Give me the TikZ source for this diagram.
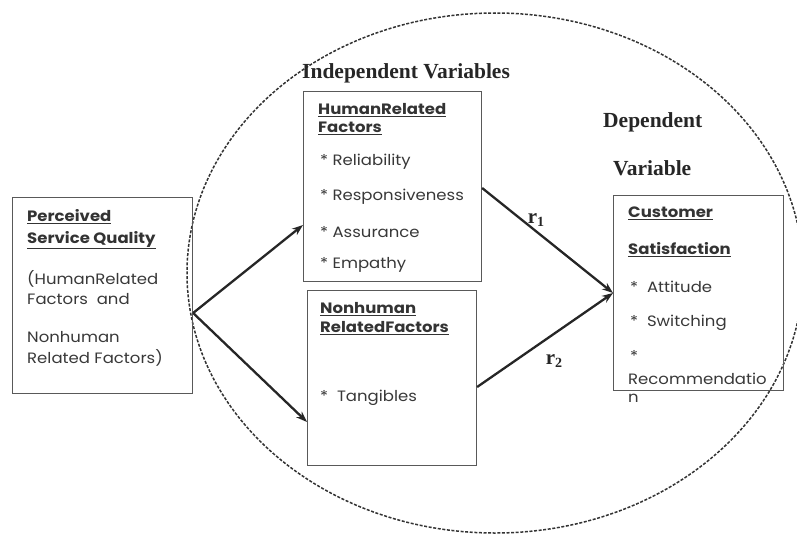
\documentclass[tikz,border=0pt]{standalone}
\usepackage{fontspec}
\setmainfont{Liberation Serif}
\newfontfamily\boxfont[FakeStretch=1.1]{Poppins}
\usetikzlibrary{arrows.meta,calc}
\begin{document}
\begin{tikzpicture}[x=1pt,y=-1pt,
  boxst/.style={draw=black!65, line width=1.1pt, anchor=north west, inner sep=0},
  txt/.style={font=\boxfont\fontsize{15}{17}\selectfont, anchor=west, inner sep=0, text=black!78},
  hd/.style={font=\boxfont\bfseries\fontsize{15}{17}\selectfont, anchor=west, inner sep=0, text=black!80},
  ttl/.style={font=\bfseries\fontsize{21.5}{25}\selectfont, anchor=west, inner sep=0, text=black!85},
  rl/.style={font=\bfseries\fontsize{21}{25}\selectfont, inner sep=0, text=black!85},
  arr/.style={line width=2.3pt, black!85, -{Stealth[length=11pt,width=8pt]}},
  scopeline/.style={line width=1.5pt, black!80, dash pattern=on 3pt off 1.6pt}
]
\useasboundingbox (0,0) rectangle (797,535);
\clip (0,0) rectangle (797,535);

% dashed ellipse
\draw[scopeline] (495,273) ellipse [x radius=308pt, y radius=260pt];

% boxes
\node[boxst, minimum width=180pt, minimum height=196pt] (pq) at (12,197) {};
\node[boxst, minimum width=178pt, minimum height=190pt] (hr) at (303,91) {};
\node[boxst, minimum width=169pt, minimum height=175pt] (nh) at (307,290) {};
\node[boxst, minimum width=170pt, minimum height=195pt] (cs) at (613,195) {};

% titles
\node[ttl] (iv) at (302,73) {Independent Variables};
\node[ttl] (dv1) at (603,122) {Dependent};
\node[ttl] (dv2) at (613,168) {Variable};

% left box text
\node[hd] (pq1) at (27,217) {\underline{Perceived}};
\node[hd] (pq2) at (27,240) {\underline{Service Quality}};
\node[txt] (pq3) at (27,279) {(HumanRelated};
\node[txt] (pq4) at (27,299) {Factors\ \ and};
\node[txt] (pq5) at (27,337) {Nonhuman};
\node[txt] (pq6) at (27,358) {Related Factors)};

% human related box
\node[hd] (hr1) at (318,110) {\underline{HumanRelated}};
\node[hd] (hr2) at (318,128) {\underline{Factors}};
\node[txt] (hr3) at (320,162) {* Reliability};
\node[txt] (hr4) at (320,197) {* Responsiveness};
\node[txt] (hr5) at (320,232) {*\ Assurance};
\node[txt] (hr6) at (320,265) {* Empathy};

% nonhuman box
\node[hd] (nh1) at (320,309) {\underline{Nonhuman}};
\node[hd] (nh2) at (320,328) {\underline{RelatedFactors}};
\node[txt] (nh3) at (320,398) {*\ \ Tangibles};

% customer box
\node[hd] (cs1) at (628,213) {\underline{Customer}};
\node[hd] (cs2) at (628,250) {\underline{Satisfaction}};
\node[txt] (cs3) at (630,287) {*\ \ Attitude};
\node[txt] (cs4) at (630,323) {*\ \ Switching};
\node[txt] (cs5) at (630,356) {*};
\node[txt] (cs6) at (628,379) {Recommendatio};
\node[txt] (cs7) at (628,398) {n};

% connection points
\coordinate (pqout) at (pq.east |- 0,313);
\coordinate (hrin) at (hr.west |- 0,225);
\coordinate (nhin) at (nh.west |- 0,422);
\coordinate (hrout) at (hr.east |- 0,188);
\coordinate (nhout) at (nh.east |- 0,387);
\coordinate (csin) at (cs.west |- 0,293);

\draw[arr] (pqout) -- (hrin);
\draw[arr] (pqout) -- (nhin);
\draw[arr] (hrout) -- (csin);
\draw[arr] (nhout) -- (csin);

% labels
\node[rl] (r1) at (536,220) {r\raisebox{-0.35ex}{\fontsize{14}{14}\selectfont 1}};
\node[rl] (r2) at (554,361) {r\raisebox{-0.35ex}{\fontsize{14}{14}\selectfont 2}};
\end{tikzpicture}
\end{document}
